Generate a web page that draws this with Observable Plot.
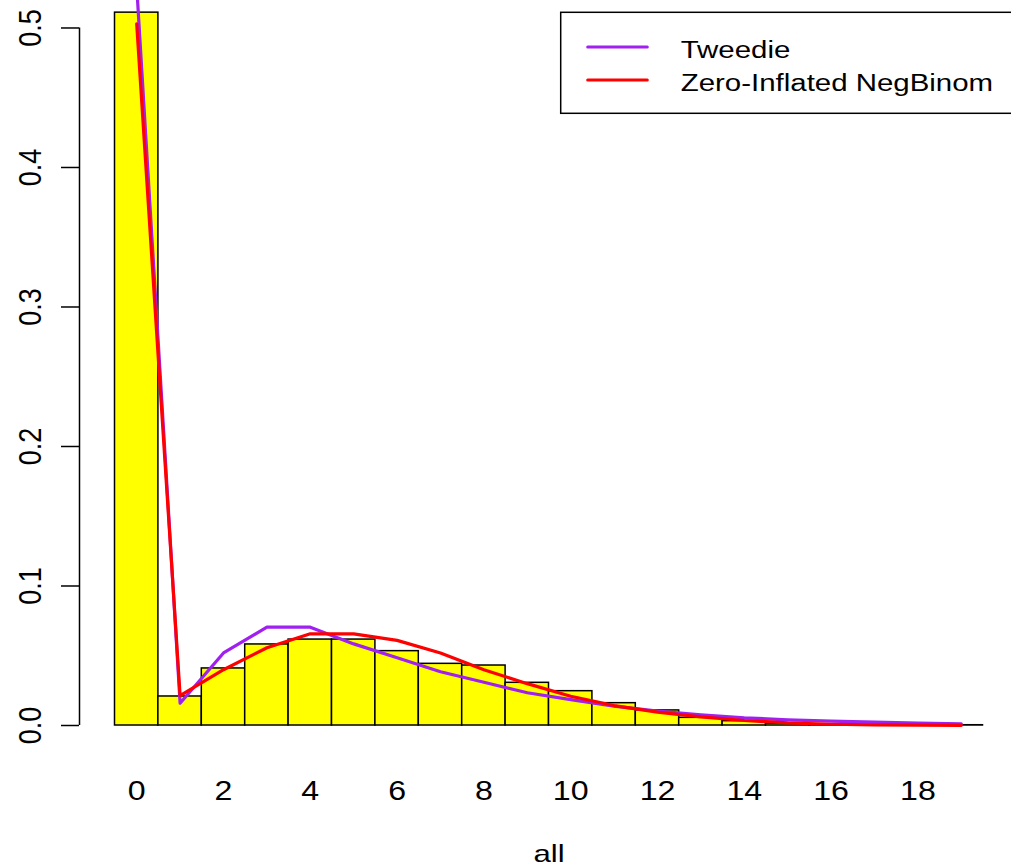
<!DOCTYPE html>
<html><head><meta charset="utf-8">
<script src="https://cdn.jsdelivr.net/npm/d3@7"></script>
<script src="https://cdn.jsdelivr.net/npm/@observablehq/plot@0.6"></script>
<style>
html,body{margin:0;padding:0;background:#fff;overflow:hidden;}
#wrap{position:relative;width:1011px;height:866px;}
#wrap svg{display:block;}
</style></head><body><div id="wrap"></div>
<script>
// ---- data ----
const counts = [0,1,2,3,4,5,6,7,8,9,10,11,12,13,14,15,16,17,18,19];
const observed = [0.511,0.0208,0.0409,0.0581,0.0616,0.0616,0.0533,0.0442,0.0430,0.0306,0.0246,0.0160,0.0108,0.0055,0.0031,0.0013,0.0007,0.0004,0.0003,0.0002];
const tweedie  = [0.530,0.0160,0.0520,0.0705,0.0705,0.0585,0.0485,0.0385,0.0310,0.0235,0.0185,0.0139,0.0103,0.0077,0.0055,0.0041,0.0031,0.0024,0.0017,0.0012];
const zinb     = [0.503,0.0215,0.0400,0.0557,0.0657,0.0657,0.0610,0.0520,0.0400,0.0300,0.0210,0.0143,0.0096,0.0062,0.0036,0.0019,0.0009,0.0005,0.0002,0.0001];
const xTickLabels = [0,2,4,6,8,10,12,14,16,18];
const yTickLabels = [0,0.1,0.2,0.3,0.4,0.5];
const seriesNames = ["Tweedie","Zero-Inflated NegBinom"];
const seriesColors = ["#A020F0","#FF0000"];
const xTitle = "all";

const bars = counts.map((k,i)=>({x1:k-0.5,x2:k+0.5,y:observed[i]}));
const tw = counts.map((k,i)=>({x:k,y:tweedie[i]}));
const zn = counts.map((k,i)=>({x:k,y:zinb[i]}));

const font = "'Liberation Sans', Arial, Helvetica, sans-serif";
const chart = Plot.plot({
  width:1011, height:866,
  marginTop:0, marginBottom:141, marginLeft:114.5, marginRight:28.5,
  x:{domain:[-0.5,19.5], axis:null},
  y:{domain:[0,0.5197], axis:null},
  style:{fontFamily:font, background:"white", color:"black"},
  marks:[
    Plot.rectY(bars,{x1:"x1",x2:"x2",y:"y",fill:"#FFFF00",stroke:"black",strokeWidth:1.5}),
    Plot.line(tw,{x:"x",y:"y",stroke:seriesColors[0],strokeWidth:3.2}),
    Plot.line(zn,{x:"x",y:"y",stroke:seriesColors[1],strokeWidth:3.2}),
    Plot.axisY({ticks:yTickLabels, tickSize:18, dx:-35.5, tickFormat:()=>"", label:null, strokeWidth:1.5}),
    Plot.ruleX([-0.5],{y1:0,y2:0.5,dx:-35.5,strokeWidth:1.5}),
    Plot.text(yTickLabels,{y:d=>d, frameAnchor:"left", dx:-73.8, rotate:-90, textAnchor:"middle", lineAnchor:"bottom", text:d=>d.toFixed(1), fontSize:27, fill:"black", fontFamily:font}),
    Plot.text(xTickLabels,{x:d=>d, frameAnchor:"bottom", dy:74.3, textAnchor:"middle", lineAnchor:"bottom", text:d=>String(d), fontSize:27, fill:"black", fontFamily:font}),
    Plot.text([xTitle],{frameAnchor:"bottom", dy:136, textAnchor:"middle", lineAnchor:"bottom", text:d=>d, fontSize:24, fill:"black", fontFamily:font})
  ]
});

// horizontally stretch glyphs like the reference raster
chart.querySelectorAll("text").forEach(t=>{
  const g = t.closest("g");
  const fs = g ? g.getAttribute("font-size") : null;
  const s = fs==="24" ? 1.3 : 1.19;
  const tr = t.getAttribute("transform");
  if (tr) t.setAttribute("transform", tr.replace(/^(translate\([^)]*\))/, `$1 scale(${s},1)`));
});

const wrap = document.getElementById("wrap");
wrap.appendChild(chart);

// legend overlay
const leg = d3.create("svg").attr("width",1011).attr("height",866)
  .style("position","absolute").style("left","0px").style("top","0px").style("pointer-events","none");
leg.append("rect").attr("x",560.7).attr("y",12.3).attr("width",470).attr("height",101)
  .attr("fill","white").attr("stroke","black").attr("stroke-width",1.5);
const rowsY = [47,80], baseY = [58.3,90.7];
seriesNames.forEach((name,i)=>{
  leg.append("line").attr("x1",587.7).attr("x2",647.3).attr("y1",rowsY[i]).attr("y2",rowsY[i])
    .attr("stroke",seriesColors[i]).attr("stroke-width",3).attr("stroke-linecap","round");
  leg.append("text").attr("transform",`translate(680.7,${baseY[i]}) scale(1.28,1)`)
    .attr("font-family",font).attr("font-size",23).attr("fill","black").text(name);
});
wrap.appendChild(leg.node());
</script></body></html>
